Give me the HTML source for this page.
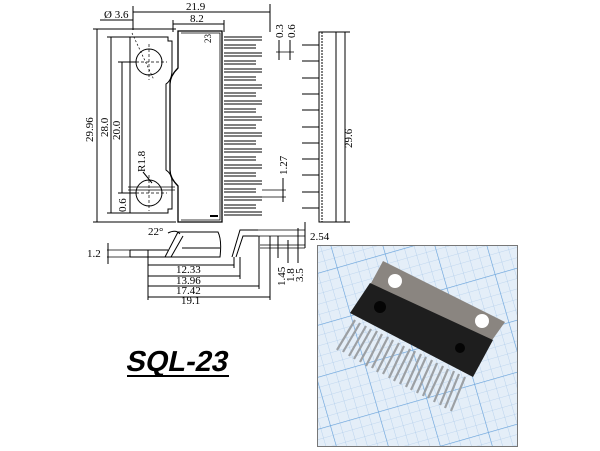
<!DOCTYPE html>
<html><head><meta charset="utf-8"><style>
html,body{margin:0;padding:0;background:#fff;width:600px;height:451px;overflow:hidden}
svg{display:block}
text{font-family:"Liberation Serif",serif;fill:#000}
text.big{font-family:"Liberation Sans",sans-serif;font-weight:bold}
</style></head><body>
<svg width="600" height="451" viewBox="0 0 600 451" xmlns="http://www.w3.org/2000/svg">
<defs>
<pattern id="g" width="10" height="10" patternUnits="userSpaceOnUse" patternTransform="rotate(-16)">
<rect width="10" height="10" fill="#e4eef8"/>
<path d="M0 0H10M0 0V10" stroke="#9cc0e6" stroke-width="0.6"/>
</pattern>
<pattern id="G" width="50" height="50" patternUnits="userSpaceOnUse" patternTransform="rotate(-16)">
<path d="M0 0H50M0 0V50" stroke="#6aa4dc" stroke-width="1.2"/>
</pattern>
<clipPath id="c"><rect x="318" y="246" width="199" height="200"/></clipPath>
</defs>
<g stroke="#000" fill="none" stroke-width="1">
<line x1="133" y1="12" x2="270" y2="12"/><line x1="133" y1="6" x2="133" y2="30"/><line x1="270" y1="4" x2="270" y2="32"/>
<line x1="173" y1="24" x2="224" y2="24"/><line x1="173" y1="20" x2="173" y2="32"/><line x1="224" y1="20" x2="224" y2="32"/>
<line x1="100" y1="20" x2="133" y2="20"/>
<line x1="97" y1="29" x2="97" y2="222"/><line x1="93" y1="29" x2="176" y2="29"/><line x1="93" y1="222" x2="176" y2="222"/>
<line x1="111" y1="37" x2="111" y2="213"/><line x1="107" y1="37" x2="130" y2="37"/><line x1="107" y1="213" x2="130" y2="213"/>
<line x1="122" y1="62" x2="122" y2="193"/><line x1="118" y1="62" x2="136" y2="62"/><line x1="118" y1="193" x2="136" y2="193"/>
<path d="M130 37H168V41H172V70Q172 80 166 84V170Q172 174 172 182V209H168V213H130Z"/>
<circle cx="149" cy="62" r="13"/><circle cx="149" cy="193" r="13"/>
<path d="M149 44V80M131 62H167M149 175V211M131 193H167" stroke-dasharray="3 2" stroke-width="0.7"/>
<line x1="132" y1="33" x2="154" y2="80" stroke-dasharray="2 2" stroke-width="0.7"/>
<line x1="143" y1="172" x2="152" y2="183"/>
<line x1="128" y1="187" x2="175" y2="187" stroke-width="0.7"/><line x1="128" y1="190" x2="175" y2="190" stroke-width="0.7"/>
<path d="M178 31H222V222H178V186Q170 178 170 170V84Q170 76 178 68Z" stroke-width="1.3"/>
<path d="M181 33H220V220H181" stroke-width="0.8"/>
<line x1="210" y1="216" x2="218" y2="216" stroke-width="2"/>
<g stroke-width="1">
<path d="M224 37H262M224 40H262"/><path d="M224 45H256M224 48H256"/><path d="M224 53H262M224 56H262"/><path d="M224 61H256M224 64H256"/><path d="M224 69H262M224 72H262"/><path d="M224 77H256M224 80H256"/><path d="M224 85H262M224 88H262"/><path d="M224 93H256M224 96H256"/><path d="M224 101H262M224 104H262"/><path d="M224 109H256M224 112H256"/><path d="M224 117H262M224 120H262"/><path d="M224 125H256M224 128H256"/><path d="M224 133H262M224 136H262"/><path d="M224 141H256M224 144H256"/><path d="M224 149H262M224 152H262"/><path d="M224 157H256M224 160H256"/><path d="M224 165H262M224 168H262"/><path d="M224 173H256M224 176H256"/><path d="M224 181H262M224 184H262"/><path d="M224 189H256M224 192H256"/><path d="M224 197H262M224 200H262"/><path d="M224 205H256M224 208H256"/><path d="M224 212H262M224 215H262"/>
</g>
<line x1="276" y1="52" x2="294" y2="52" stroke-width="0.7"/>
<line x1="279" y1="40" x2="279" y2="60"/><line x1="290" y1="40" x2="290" y2="60"/>
<line x1="283" y1="178" x2="283" y2="202"/><line x1="262" y1="190" x2="286" y2="190" stroke-width="0.7"/><line x1="262" y1="197" x2="286" y2="197" stroke-width="0.7"/>
<rect x="319" y="32" width="17" height="190"/><line x1="322" y1="32" x2="322" y2="222" stroke-dasharray="2 1"/>
<g stroke-width="1">
<path d="M302 45H319M302 61H319M302 78H319M302 94H319M302 110H319M302 127H319M302 143H319M302 159H319M302 175H319M302 192H319M302 208H319"/>
</g>
<line x1="345" y1="32" x2="345" y2="222"/><line x1="336" y1="32" x2="350" y2="32"/><line x1="336" y1="222" x2="350" y2="222"/>
<path d="M130 250H168M130 257H168M130 250V257"/>
<path d="M165 257L178 232H218Q222 240 220 257Z"/>
<path d="M171 257L183 236"/><path d="M182 248H220"/>
<path d="M232 257L240 230H258M236 257L243 236H258"/>
<line x1="107" y1="250" x2="130" y2="250" stroke-width="0.7"/><line x1="107" y1="257" x2="130" y2="257" stroke-width="0.7"/>
<line x1="108" y1="243" x2="108" y2="264"/>
<path d="M168 233Q176 229 180 234"/>
<line x1="148" y1="250" x2="148" y2="300"/>
<line x1="148" y1="265" x2="234" y2="265"/><line x1="148" y1="276" x2="240" y2="276"/>
<line x1="148" y1="286" x2="259" y2="286"/><line x1="148" y1="297" x2="270" y2="297"/>
<line x1="234" y1="257" x2="234" y2="268"/><line x1="240" y1="257" x2="240" y2="279"/><line x1="259" y1="236" x2="259" y2="289"/><line x1="270" y1="236" x2="270" y2="300"/>
<line x1="258" y1="230" x2="305" y2="230" stroke-width="0.7"/><line x1="258" y1="236" x2="305" y2="236" stroke-width="0.7"/>
<line x1="260" y1="245" x2="305" y2="245" stroke-width="0.7"/><line x1="260" y1="248" x2="305" y2="248" stroke-width="0.7"/>
<line x1="278" y1="236" x2="278" y2="258"/><line x1="288" y1="240" x2="288" y2="263"/><line x1="298" y1="228" x2="298" y2="263"/>
<line x1="305" y1="222" x2="305" y2="248"/>
</g>
<g font-size="11">
<text x="186" y="10">21.9</text>
<text x="190" y="22">8.2</text>
<text x="104" y="18">Ø 3.6</text>
<text x="211" y="43" font-size="9" transform="rotate(-90 211 43)">23</text>
<text transform="translate(93,142) rotate(-90)">29.96</text>
<text transform="translate(108,137) rotate(-90)">28.0</text>
<text transform="translate(120,140) rotate(-90)">20.0</text>
<text transform="translate(126,212) rotate(-90)">0.6</text>
<text transform="translate(145,172) rotate(-90)">R1.8</text>
<text transform="translate(283,38) rotate(-90)">0.3</text>
<text transform="translate(295,38) rotate(-90)">0.6</text>
<text transform="translate(287,175) rotate(-90)">1.27</text>
<text transform="translate(352,148) rotate(-90)">29.6</text>
<text x="148" y="235">22°</text>
<text x="310" y="240">2.54</text>
<text x="87" y="257">1.2</text>
<text x="176" y="273">12.33</text>
<text x="176" y="284">13.96</text>
<text x="176" y="294">17.42</text>
<text x="181" y="304">19.1</text>
<text transform="translate(285,286) rotate(-90)">1.45</text>
<text transform="translate(294,282) rotate(-90)">1.8</text>
<text transform="translate(303,282) rotate(-90)">3.5</text>
</g>
<text class="big" font-size="29" transform="translate(125,371) skewX(-12)">SQL-23</text>
<line x1="127" y1="376" x2="229" y2="376" stroke="#000" stroke-width="2"/>
<g clip-path="url(#c)">
<rect x="318" y="246" width="199" height="200" fill="url(#g)"/>
<rect x="318" y="246" width="199" height="200" fill="url(#G)"/>
<polygon points="383,261 505,322 490,343 370,285" fill="#8a8580"/>
<circle cx="395" cy="281" r="7" fill="#fff"/><circle cx="482" cy="321" r="7" fill="#fff"/>
<g stroke="#9ca0a4" stroke-width="2.2">
<path d="M355 320L337 350M360 323L343 352M366 326L349 356M371 329L354 359M377 331L360 362M382 334L366 366M388 337L372 368M393 340L377 372M399 343L383 374M404 346L389 378M410 349L394 381M415 351L400 384M421 354L406 387M426 357L411 390M432 360L417 393M437 363L423 396M443 366L428 398M448 369L434 402M454 371L440 405M459 374L445 408M465 377L451 411"/>
</g>
<polygon points="370,283 493,340 473,377 350,313" fill="#1e1e1e"/>
<circle cx="380" cy="307" r="6" fill="#050505"/><circle cx="460" cy="348" r="5" fill="#050505"/>
</g>
<rect x="317.5" y="245.5" width="200" height="201" fill="none" stroke="#777"/>
</svg>
</body></html>
